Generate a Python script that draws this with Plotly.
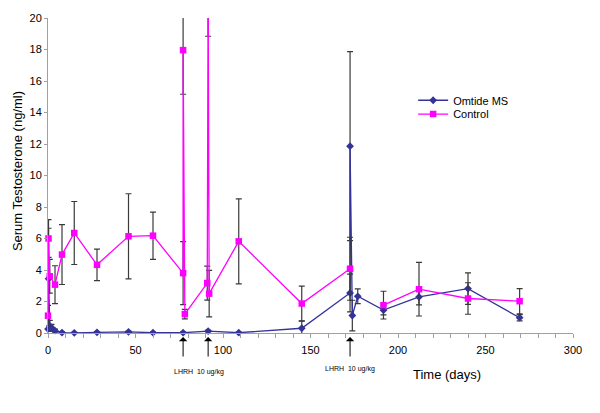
import plotly.graph_objects as go

# ---- data ----
omtide_days = [0, 0.3, 1, 2, 4, 8, 15, 28, 46, 60, 77.2, 91.5, 109, 145,
               172.6, 172.6, 173.9, 177, 191.7, 212, 240, 269.5]
omtide_vals = [0.25, 3.45, 0.45, 0.35, 0.15, 0.03, 0.01, 0.04, 0.07, 0.02, 0.02, 0.12, 0.02, 0.3,
               2.54, 11.86, 1.11, 2.33, 1.45, 2.29, 2.82, 0.97]
omtide_err = [0.1, 3.2, 0.35, 0.2, 0.1, 0.05, 0.03, 0.05, 0.05, 0.03, 0.03, 0.05, 0.03, 0.45,
              1.2, 6.0, 0.97, 0.47, 0.3, 0.5, 1.0, 0.2]

control_days = [0, 0.3, 1, 4, 8, 15, 28, 46, 60, 77.2, 77.2, 78.2, 91, 91.5, 92.1, 109, 145,
                172.6, 180, 191.7, 212, 240, 269.5]
control_vals = [1.1, 6.0, 3.6, 3.07, 4.98, 6.35, 4.33, 6.14, 6.18, 3.8, 17.96, 1.2, 3.17, 22.0,
                2.5, 5.82, 1.87, 4.08, None, 1.77, 2.78, 2.19, 2.02]
control_err = [0.65, 1.2, 1.07, 1.2, 1.9, 2.0, 1.0, 2.7, 1.5, 2.0, 2.8, 0.3, 1.08, 3.16,
               1.47, 2.7, 1.1, 2.0, 0, 0.88, 1.7, 1.0, 0.8]

lhrh_days = [77.2, 91.5, 172.6]
lhrh_label_days = [86.3, 172.6]
lhrh_label = "LHRH  10 ug/kg"

x_ticks = [0, 50, 100, 150, 200, 250, 300]
y_ticks = [0, 2, 4, 6, 8, 10, 12, 14, 16, 18, 20]

FONT = "Liberation Sans, Arial, sans-serif"
BLUE = "#333399"
PINK = "#ff00ff"
ERR = "#3a3a3a"

fig = go.Figure()
fig.add_trace(go.Scatter(
    x=omtide_days, y=omtide_vals, name="Omtide MS", mode="lines+markers",
    line=dict(color=BLUE, width=1.3),
    marker=dict(symbol="diamond", size=6, color=BLUE),
    error_y=dict(type="data", array=omtide_err, visible=True, color=ERR, thickness=1.2, width=3),
    cliponaxis=False, legend="legend",
))
fig.add_trace(go.Scatter(
    x=control_days, y=control_vals, name="Control", mode="lines+markers",
    line=dict(color=PINK, width=1.3),
    marker=dict(symbol="square", size=6.5, color=PINK),
    error_y=dict(type="data", array=control_err, visible=True, color=ERR, thickness=1.2, width=3),
    cliponaxis=False, legend="legend2",
))

annotations = []
for d in lhrh_days:
    annotations.append(dict(
        x=d, y=0, xref="x", yref="paper", text="", showarrow=True,
        ax=0, ay=21, arrowhead=1, arrowsize=1.4, arrowwidth=1, arrowcolor="#000000",
        yshift=-4,
    ))
label_y = [-0.1235, -0.114]
for d, ly in zip(lhrh_label_days, label_y):
    annotations.append(dict(
        x=d, y=ly, xref="x", yref="paper", text=lhrh_label, showarrow=False,
        xanchor="center", yanchor="middle",
        font=dict(family=FONT, size=7, color="#000000"),
    ))
annotations.append(dict(
    x=228, y=-0.1325, xref="x", yref="paper", text="Time (days)", showarrow=False,
    xanchor="center", yanchor="middle",
    font=dict(family=FONT, size=13, color="#000000"),
))
annotations.append(dict(
    x=-0.059, y=0.514, xref="paper", yref="paper", text="Serum Testosterone (ng/ml)",
    showarrow=False, textangle=-90, xanchor="center", yanchor="middle",
    font=dict(family=FONT, size=13, color="#000000"),
))

legend_common = dict(xanchor="left", yanchor="top", bgcolor="rgba(0,0,0,0)",
                     font=dict(family=FONT, size=11), itemwidth=30)

fig.update_layout(
    width=600, height=413,
    margin=dict(l=48, r=27, t=16, b=80),
    paper_bgcolor="white", plot_bgcolor="white",
    font=dict(family=FONT, size=11, color="#000000"),
    showlegend=True,
    legend=dict(x=0.6955, y=0.785, **legend_common),
    legend2=dict(x=0.6955, y=0.741, **legend_common),
    annotations=annotations,
    xaxis=dict(range=[0, 300], tickvals=x_ticks, showgrid=False, zeroline=False,
               showline=True, linecolor="#a0a0a0", linewidth=1,
               ticks="outside", ticklen=4, tickcolor="#a0a0a0",
               ticklabelstandoff=3,
               minor=dict(dtick=10, ticks="outside", ticklen=4, tickcolor="#a0a0a0"),
               tickfont=dict(family=FONT, size=11)),
    yaxis=dict(range=[0, 20], tickvals=y_ticks, showgrid=False, zeroline=False,
               showline=True, linecolor="#a0a0a0", linewidth=1,
               ticks="outside", ticklen=3, tickcolor="#a0a0a0",
               tickfont=dict(family=FONT, size=11)),
)

fig.write_html("out.html", config={"displayModeBar": False},
               post_script="document.body.style.margin='0px';")
